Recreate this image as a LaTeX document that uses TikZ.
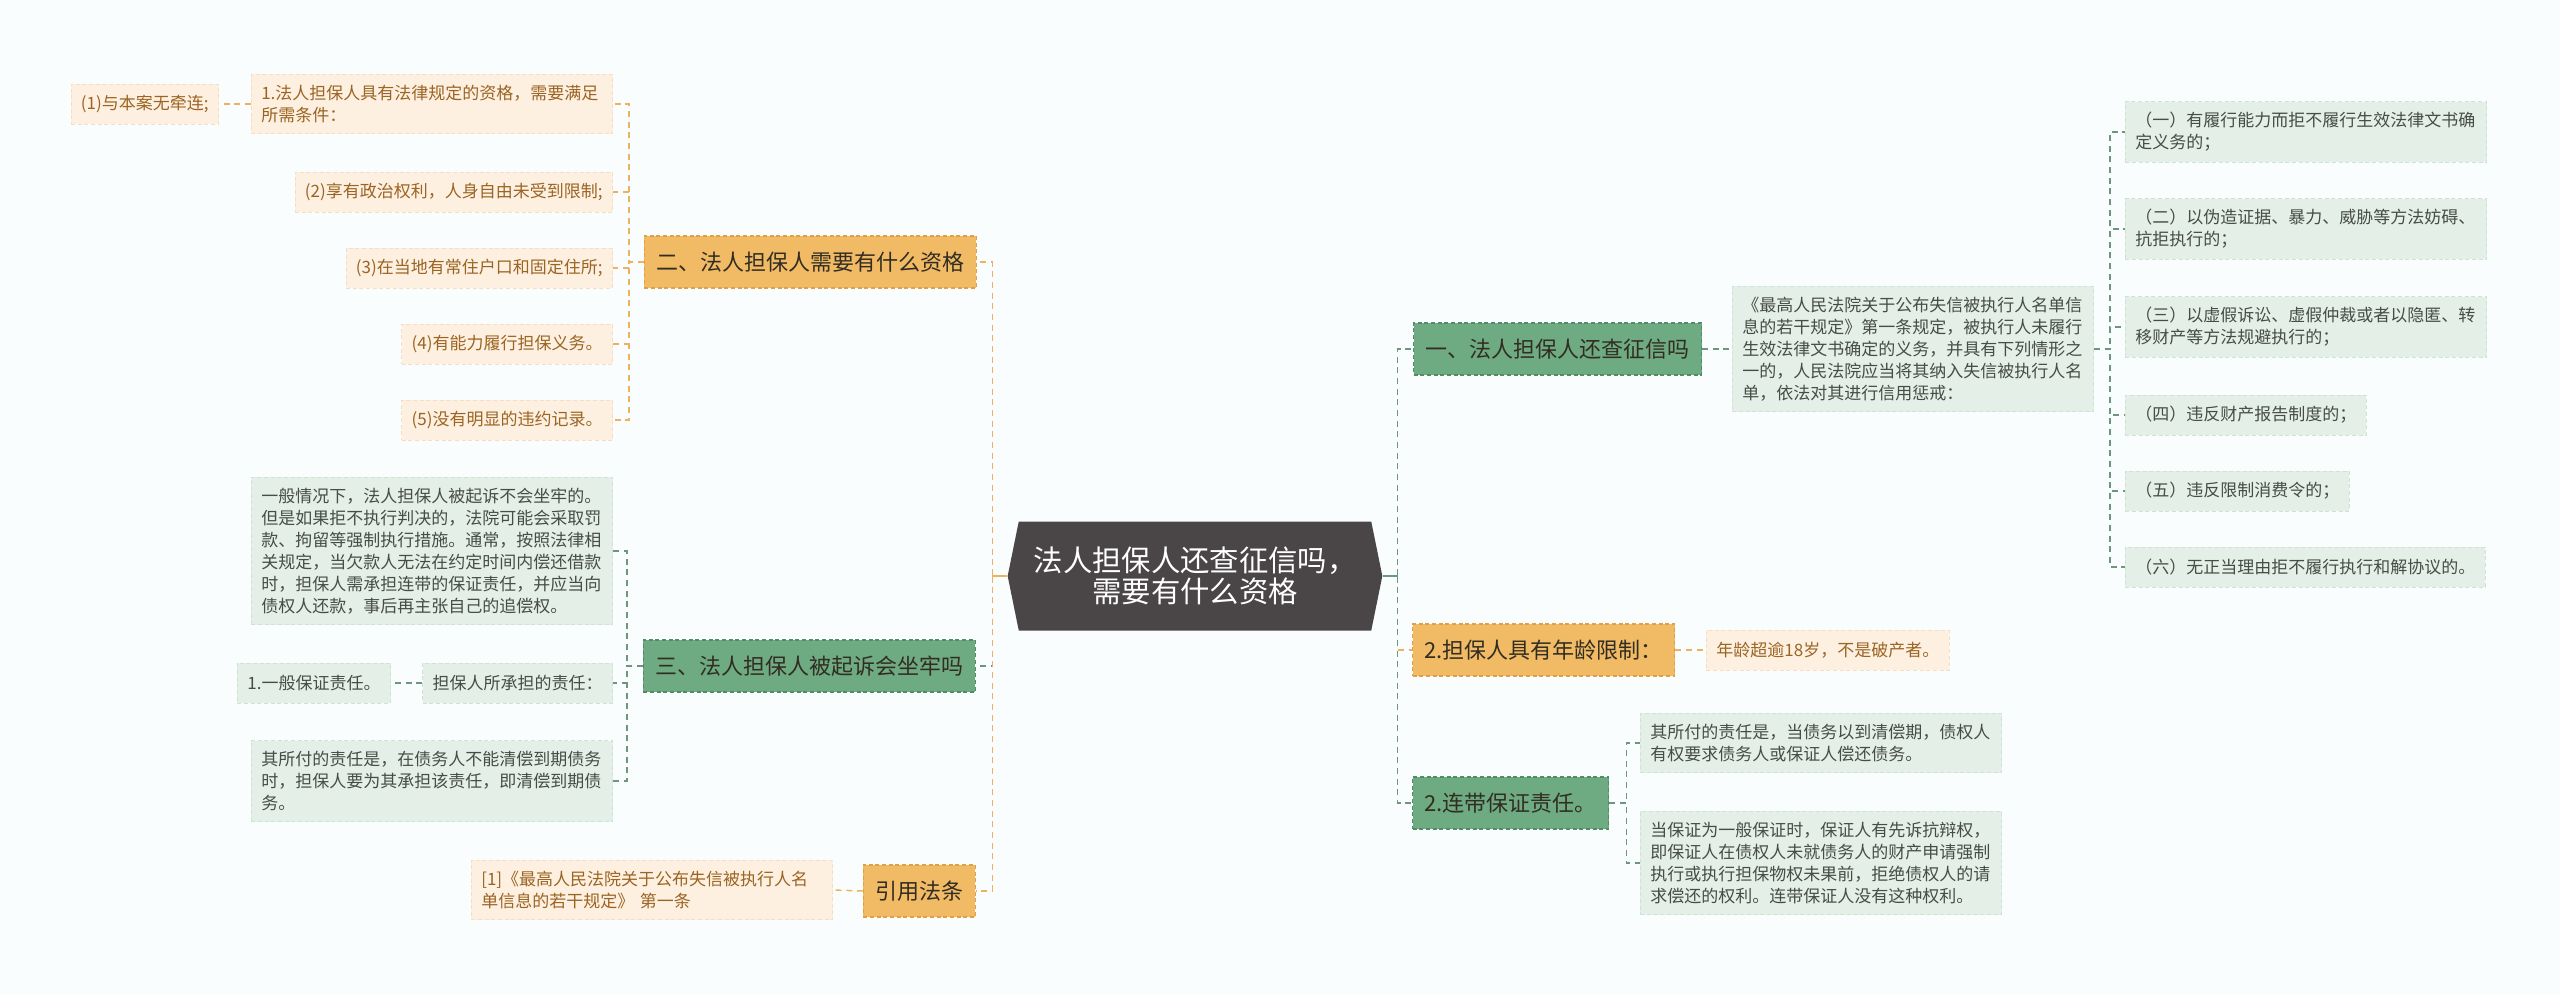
\documentclass[tikz,border=0pt]{standalone}
\usepackage{fontspec}
\setmainfont{Noto Sans CJK SC}
\usetikzlibrary{shapes.symbols}

\definecolor{bgpaper}{RGB}{250,253,253}
\definecolor{rootfill}{RGB}{74,69,70}
\definecolor{orgfill}{RGB}{241,186,100}
\definecolor{orgedge}{RGB}{226,160,70}
\definecolor{grnfill}{RGB}{110,170,130}
\definecolor{grnedge}{RGB}{80,140,100}
\definecolor{lorgfill}{RGB}{253,240,224}
\definecolor{lorgedge}{RGB}{245,222,195}
\definecolor{lorgtext}{RGB}{155,100,35}
\definecolor{lgrnfill}{RGB}{228,239,231}
\definecolor{lgrnedge}{RGB}{208,225,213}
\definecolor{lgrntext}{RGB}{70,76,70}
\definecolor{maintext}{RGB}{50,45,35}
\definecolor{orgline}{RGB}{236,178,95}
\definecolor{grnline}{RGB}{110,150,125}

\tikzset{
  rootbox/.style={signal, signal to=west and east, signal pointer angle=157,
    fill=rootfill, text=white, align=center, minimum width=281pt, minimum height=81.75pt,
    font=\fontsize{22}{23}\selectfont},
  mainbox/.style={dash pattern=on 3pt off 2pt, line width=0.8pt, text=maintext,
    font=\fontsize{16.5}{20}\selectfont, inner xsep=9pt, minimum height=39pt},
  mainorg/.style={mainbox, fill=orgfill, draw=orgedge},
  maingrn/.style={mainbox, fill=grnfill, draw=grnedge},
  leafbox/.style={dash pattern=on 3pt off 2pt, line width=0.6pt,
    font=\fontsize{12.75}{16.5}\selectfont, inner xsep=7.5pt, inner ysep=8pt,
    align=left, minimum height=30pt},
  leaforg/.style={leafbox, fill=lorgfill, draw=lorgedge, text=lorgtext},
  leafgrn/.style={leafbox, fill=lgrnfill, draw=lgrnedge, text=lgrntext},
  widebox/.style={text width=256pt},
  orgwire/.style={draw=orgline, line width=1.1pt, dash pattern=on 4.5pt off 3.5pt},
  grnwire/.style={draw=grnline, line width=1.1pt, dash pattern=on 4.5pt off 3.5pt},
  stub/.style={line width=1.1pt, solid},
}

\begin{document}
\begin{tikzpicture}[x=0.75pt, y=-0.75pt]
  \fill[bgpaper] (0,0) rectangle (2560,995);

  % centre
  \node[rootbox] (root) at (1195,576) {法人担保人还查征信吗，\\需要有什么资格};

  % left branches
  \node[mainorg, anchor=east] (qual) at (977,262) {二、法人担保人需要有什么资格};
  \node[maingrn, anchor=east] (jail) at (976,666) {三、法人担保人被起诉会坐牢吗};
  \node[mainorg, anchor=east] (cite) at (976,891) {引用法条};

  \node[leaforg, widebox, anchor=east] (qual1) at (613,104) {1.法人担保人具有法律规定的资格，需要满足\\所需条件：};
  \node[leaforg, anchor=east] (qual1a) at (219,104) {(1)与本案无牵连;};
  \node[leaforg, anchor=east] (qual2) at (613,192) {(2)享有政治权利，人身自由未受到限制;};
  \node[leaforg, anchor=east] (qual3) at (613,268) {(3)在当地有常住户口和固定住所;};
  \node[leaforg, anchor=east] (qual4) at (613,344) {(4)有能力履行担保义务。};
  \node[leaforg, anchor=east] (qual5) at (613,420) {(5)没有明显的违约记录。};

  \node[leafgrn, widebox, anchor=east] (jail1) at (613,551) {一般情况下，法人担保人被起诉不会坐牢的。\\但是如果拒不执行判决的，法院可能会采取罚\\款、拘留等强制执行措施。通常，按照法律相\\关规定，当欠款人无法在约定时间内偿还借款\\时，担保人需承担连带的保证责任，并应当向\\债权人还款，事后再主张自己的追偿权。};
  \node[leafgrn, anchor=east] (jail2) at (613,683) {担保人所承担的责任：};
  \node[leafgrn, anchor=east] (jail2a) at (391,683) {1.一般保证责任。};
  \node[leafgrn, widebox, anchor=east] (jail3) at (613,781) {其所付的责任是，在债务人不能清偿到期债务\\时，担保人要为其承担该责任，即清偿到期债\\务。};

  \node[leaforg, widebox, anchor=east] (citetext) at (833,890) {[1]《最高人民法院关于公布失信被执行人名\\单信息的若干规定》 第一条};

  % right branches
  \node[maingrn, anchor=west] (credit) at (1413,349) {一、法人担保人还查征信吗};
  \node[mainorg, anchor=west] (agelimit) at (1412,650) {2.担保人具有年龄限制：};
  \node[maingrn, anchor=west] (joint) at (1412,803) {2.连带保证责任。};

  \node[leafgrn, widebox, anchor=west] (rule) at (1732,349) {《最高人民法院关于公布失信被执行人名单信\\息的若干规定》第一条规定，被执行人未履行\\生效法律文书确定的义务，并具有下列情形之\\一的，人民法院应当将其纳入失信被执行人名\\单，依法对其进行信用惩戒：};

  \node[leafgrn, widebox, anchor=west] (case1) at (2125,132) {（一）有履行能力而拒不履行生效法律文书确\\定义务的；};
  \node[leafgrn, widebox, anchor=west] (case2) at (2125,229) {（二）以伪造证据、暴力、威胁等方法妨碍、\\抗拒执行的；};
  \node[leafgrn, widebox, anchor=west] (case3) at (2125,327) {（三）以虚假诉讼、虚假仲裁或者以隐匿、转\\移财产等方法规避执行的；};
  \node[leafgrn, anchor=west] (case4) at (2125,415) {（四）违反财产报告制度的；};
  \node[leafgrn, anchor=west] (case5) at (2125,491) {（五）违反限制消费令的；};
  \node[leafgrn, anchor=west] (case6) at (2125,567) {（六）无正当理由拒不履行执行和解协议的。};

  \node[leaforg, anchor=west] (agetext) at (1706,650) {年龄超逾18岁，不是破产者。};

  \node[leafgrn, widebox, anchor=west] (joint1) at (1640,743) {其所付的责任是，当债务以到清偿期，债权人\\有权要求债务人或保证人偿还债务。};
  \node[leafgrn, widebox, anchor=west] (joint2) at (1640,863) {当保证为一般保证时，保证人有先诉抗辩权，\\即保证人在债权人未就债务人的财产申请强制\\执行或执行担保物权未果前，拒绝债权人的请\\求偿还的权利。连带保证人没有这种权利。};

  % connectors, left
  \draw[grnwire] (root.west) ++(-15,0) |- (jail.east);
  \draw[orgwire] (root.west) ++(-15,0) |- (qual.east);
  \draw[orgwire] (root.west) ++(-15,0) |- (cite.east);
  \draw[stub, draw=orgline] (root.west) -- ++(-15,0) ++(0,-7) -- ++(0,14);
  \foreach \leaf in {qual1,qual2,qual3,qual4,qual5}
    \draw[orgwire] (qual.west) -- ++(-15,0) |- (\leaf.east);
  \draw[orgwire] (qual1.west) -- (qual1a.east);
  \foreach \leaf in {jail1,jail2,jail3}
    \draw[grnwire] (jail.west) -- ++(-16,0) |- (\leaf.east);
  \draw[grnwire] (jail2.west) -- (jail2a.east);
  \draw[orgwire] (cite.west) -- (citetext.east);

  % connectors, right
  \draw[orgwire] (root.east) ++(15,0) |- (agelimit.west);
  \draw[grnwire] (root.east) ++(15,0) |- (credit.west);
  \draw[grnwire] (root.east) ++(15,0) |- (joint.west);
  \draw[stub, draw=grnline] (root.east) -- ++(15,0) ++(0,-7) -- ++(0,14);
  \draw[grnwire] (credit.east) -- (rule.west);
  \foreach \i in {1,...,6}
    \draw[grnwire] (rule.east) -- ++(16,0) |- (case\i.west);
  \draw[orgwire] (agelimit.east) -- (agetext.west);
  \foreach \i in {1,2}
    \draw[grnwire] (joint.east) -- ++(17,0) |- (joint\i.west);
\end{tikzpicture}
\end{document}
